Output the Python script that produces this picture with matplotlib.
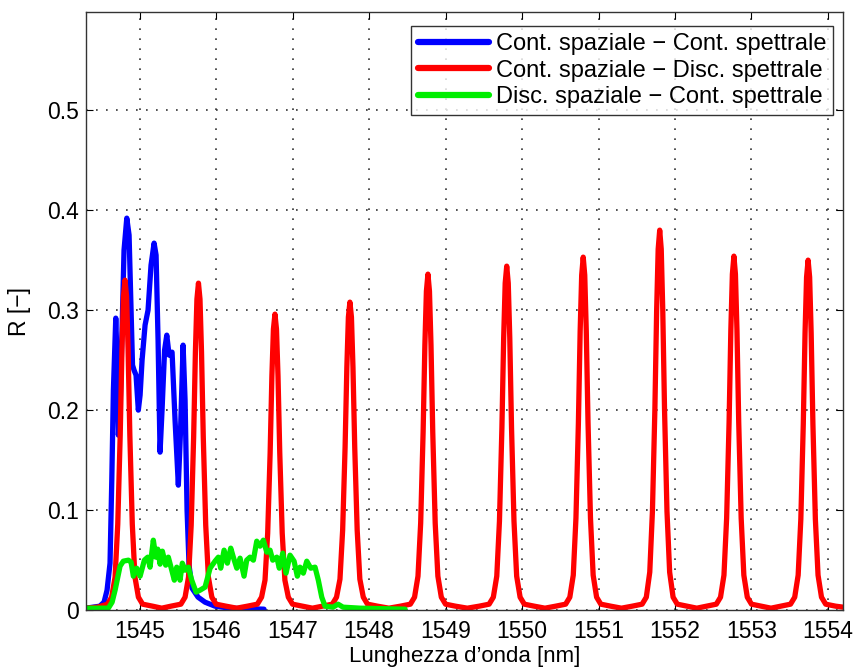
import matplotlib
matplotlib.use("Agg")
import matplotlib.pyplot as plt

plt.rcParams['font.family'] = ['Liberation Sans', 'DejaVu Sans']

# Cont. spaziale - Cont. spettrale (blue)
blue_x = [1544.300, 1544.480, 1544.536, 1544.575, 1544.614, 1544.637, 1544.658, 1544.689,
          1544.706, 1544.723, 1544.745, 1544.771, 1544.797, 1544.833, 1544.863, 1544.889,
          1544.908, 1544.928, 1544.954, 1544.984, 1545.007, 1545.033, 1545.072, 1545.111,
          1545.150, 1545.190, 1545.216, 1545.242, 1545.268, 1545.294, 1545.327, 1545.356,
          1545.386, 1545.425, 1545.464, 1545.507, 1545.536, 1545.569, 1545.595, 1545.621,
          1545.647, 1545.686, 1545.765, 1545.856, 1545.987, 1546.183, 1546.627]
blue_y = [0.002, 0.004, 0.008, 0.020, 0.047, 0.130, 0.220, 0.292,
          0.250, 0.175, 0.200, 0.280, 0.360, 0.392, 0.375, 0.300,
          0.245, 0.240, 0.235, 0.200, 0.215, 0.250, 0.285, 0.300,
          0.345, 0.367, 0.355, 0.270, 0.158, 0.200, 0.260, 0.275,
          0.255, 0.258, 0.190, 0.125, 0.180, 0.265, 0.210, 0.100,
          0.045, 0.022, 0.013, 0.008, 0.004, 0.002, 0.001]

# Cont. spaziale - Disc. spettrale (red), one line per peak plus the trough after it
red_x = [1544.30, 1544.45,
         1544.58, 1544.635, 1544.68, 1544.715, 1544.747, 1544.77, 1544.79, 1544.81, 1544.83, 1544.85, 1544.873, 1544.905, 1544.94, 1544.985, 1545.04, 1545.17, 1545.29, 1545.41,
         1545.54, 1545.595, 1545.64, 1545.675, 1545.707, 1545.73, 1545.75, 1545.77, 1545.79, 1545.81, 1545.833, 1545.865, 1545.90, 1545.945, 1546.00, 1546.13, 1546.27, 1546.41,
         1546.54, 1546.595, 1546.64, 1546.675, 1546.707, 1546.73, 1546.75, 1546.77, 1546.79, 1546.81, 1546.833, 1546.865, 1546.90, 1546.945, 1547.00, 1547.13, 1547.26, 1547.39,
         1547.52, 1547.575, 1547.62, 1547.655, 1547.687, 1547.71, 1547.73, 1547.75, 1547.77, 1547.79, 1547.813, 1547.845, 1547.88, 1547.925, 1547.98, 1548.11, 1548.26, 1548.41,
         1548.54, 1548.595, 1548.64, 1548.675, 1548.707, 1548.73, 1548.75, 1548.77, 1548.79, 1548.81, 1548.833, 1548.865, 1548.90, 1548.945, 1549.00, 1549.13, 1549.285, 1549.44,
         1549.57, 1549.625, 1549.67, 1549.705, 1549.737, 1549.76, 1549.78, 1549.80, 1549.82, 1549.84, 1549.863, 1549.895, 1549.93, 1549.975, 1550.03, 1550.16, 1550.30, 1550.44,
         1550.57, 1550.625, 1550.67, 1550.705, 1550.737, 1550.76, 1550.78, 1550.80, 1550.82, 1550.84, 1550.863, 1550.895, 1550.93, 1550.975, 1551.03, 1551.16, 1551.30, 1551.44,
         1551.57, 1551.625, 1551.67, 1551.705, 1551.737, 1551.76, 1551.78, 1551.80, 1551.82, 1551.84, 1551.863, 1551.895, 1551.93, 1551.975, 1552.03, 1552.16, 1552.285, 1552.41,
         1552.54, 1552.595, 1552.64, 1552.675, 1552.707, 1552.73, 1552.75, 1552.77, 1552.79, 1552.81, 1552.833, 1552.865, 1552.90, 1552.945, 1553.00, 1553.13, 1553.255, 1553.38,
         1553.51, 1553.565, 1553.61, 1553.645, 1553.677, 1553.70, 1553.72, 1553.74, 1553.76, 1553.78, 1553.803, 1553.835, 1553.87, 1553.915, 1553.97, 1554.10, 1554.20]
red_y = [0.002, 0.003,
         0.006, 0.013, 0.033, 0.086, 0.175, 0.261, 0.314, 0.330, 0.314, 0.261, 0.175, 0.086, 0.033, 0.013, 0.006, 0.004, 0.002, 0.004,
         0.006, 0.013, 0.033, 0.085, 0.173, 0.258, 0.311, 0.327, 0.311, 0.258, 0.173, 0.085, 0.033, 0.013, 0.006, 0.004, 0.002, 0.004,
         0.006, 0.013, 0.030, 0.077, 0.157, 0.234, 0.281, 0.296, 0.281, 0.234, 0.157, 0.077, 0.030, 0.013, 0.006, 0.004, 0.002, 0.004,
         0.006, 0.013, 0.031, 0.080, 0.163, 0.243, 0.293, 0.308, 0.293, 0.243, 0.163, 0.080, 0.031, 0.013, 0.006, 0.004, 0.002, 0.004,
         0.006, 0.013, 0.034, 0.087, 0.178, 0.265, 0.319, 0.336, 0.319, 0.265, 0.178, 0.087, 0.034, 0.013, 0.006, 0.004, 0.002, 0.004,
         0.006, 0.013, 0.034, 0.089, 0.182, 0.272, 0.327, 0.344, 0.327, 0.272, 0.182, 0.089, 0.034, 0.013, 0.006, 0.004, 0.002, 0.004,
         0.006, 0.013, 0.035, 0.092, 0.187, 0.279, 0.335, 0.353, 0.335, 0.279, 0.187, 0.092, 0.035, 0.013, 0.006, 0.004, 0.002, 0.004,
         0.006, 0.013, 0.038, 0.099, 0.201, 0.300, 0.361, 0.380, 0.361, 0.300, 0.201, 0.099, 0.038, 0.013, 0.006, 0.004, 0.002, 0.004,
         0.006, 0.013, 0.035, 0.092, 0.188, 0.280, 0.336, 0.354, 0.336, 0.280, 0.188, 0.092, 0.035, 0.013, 0.006, 0.004, 0.002, 0.004,
         0.006, 0.013, 0.035, 0.091, 0.186, 0.277, 0.333, 0.350, 0.333, 0.277, 0.186, 0.091, 0.035, 0.013, 0.006, 0.004, 0.003]

# Disc. spaziale - Cont. spettrale (green)
green_x = [1544.301, 1544.592, 1544.641, 1544.680, 1544.745, 1544.788, 1544.854, 1544.889,
           1544.919, 1544.963, 1545.007, 1545.063, 1545.107, 1545.137, 1545.180, 1545.212,
           1545.238, 1545.268, 1545.298, 1545.342, 1545.376, 1545.421, 1545.455, 1545.486,
           1545.529, 1545.559, 1545.595, 1545.638, 1545.682, 1545.739, 1545.791, 1545.856,
           1545.922, 1545.987, 1546.030, 1546.061, 1546.105, 1546.148, 1546.192, 1546.226,
           1546.271, 1546.314, 1546.366, 1546.401, 1546.444, 1546.488, 1546.532, 1546.575,
           1546.618, 1546.663, 1546.706, 1546.741, 1546.794, 1546.827, 1546.872, 1546.915,
           1546.967, 1547.020, 1547.063, 1547.098, 1547.141, 1547.186, 1547.238, 1547.294,
           1547.337, 1547.382, 1547.425, 1547.529, 1547.595, 1547.660, 1547.882, 1548.471]
green_y = [0.002, 0.002, 0.008, 0.020, 0.044, 0.049, 0.050, 0.048,
           0.034, 0.042, 0.034, 0.050, 0.053, 0.043, 0.070, 0.053,
           0.061, 0.046, 0.059, 0.045, 0.053, 0.040, 0.030, 0.043,
           0.030, 0.047, 0.040, 0.043, 0.030, 0.018, 0.020, 0.023,
           0.042, 0.049, 0.053, 0.042, 0.060, 0.047, 0.062, 0.053,
           0.042, 0.052, 0.034, 0.050, 0.053, 0.050, 0.069, 0.064,
           0.070, 0.058, 0.060, 0.050, 0.053, 0.042, 0.057, 0.037,
           0.055, 0.049, 0.034, 0.043, 0.037, 0.049, 0.042, 0.043,
           0.030, 0.013, 0.004, 0.003, 0.006, 0.003, 0.002, 0.001]

labels = ['Cont. spaziale \u2212 Cont. spettrale',
          'Cont. spaziale \u2212 Disc. spettrale',
          'Disc. spaziale \u2212 Cont. spettrale']
x_ticks = [1545, 1546, 1547, 1548, 1549, 1550, 1551, 1552, 1553, 1554]
y_ticks = [0, 0.1, 0.2, 0.3, 0.4, 0.5]
y_tick_labels = ['0', '0.1', '0.2', '0.3', '0.4', '0.5']

fig = plt.figure(figsize=(8.55, 6.72), dpi=100)
ax = fig.add_axes([0.1006, 0.092, 0.8857, 0.890])

style = dict(lw=3.8, solid_joinstyle='round', solid_capstyle='round')
ax.plot(blue_x, blue_y, color='#0000ff', label=labels[0], **style)
ax.plot(red_x, red_y, color='#ff0000', label=labels[1], **style)
ax.plot(green_x, green_y, color='#00ee00', label=labels[2], **style)

ax.set_xlim(1544.3, 1554.2)
ax.set_ylim(0, 0.598)
ax.set_xticks(x_ticks)
ax.set_xticklabels([str(t) for t in x_ticks])
ax.set_yticks(y_ticks)
ax.set_yticklabels(y_tick_labels)
ax.tick_params(axis='x', direction='in', top=True, length=5, labelsize=16.5, pad=7)
ax.tick_params(axis='y', direction='in', right=True, length=5, labelsize=16.5, pad=5)
ax.grid(True, color='#333333', linestyle=(0, (1, 5)), linewidth=1.2)
for s in ax.spines.values():
    s.set_color('#333333')
    s.set_linewidth(1.0)

ax.set_xlabel('Lunghezza d\u2019onda [nm]', fontsize=16, labelpad=2)
ax.set_ylabel('R [\u2212]', fontsize=16.5, labelpad=12)

leg = ax.legend(loc='upper right', bbox_to_anchor=(0.987, 0.977), fontsize=17,
                fancybox=False, edgecolor='black', handlelength=3.0, borderaxespad=0,
                labelspacing=0.2, handletextpad=0.3, borderpad=0.3)
leg.get_frame().set_linewidth(1.0)
for line in leg.get_lines():
    line.set_linewidth(4.5)

fig.savefig('out.png', dpi=100)
